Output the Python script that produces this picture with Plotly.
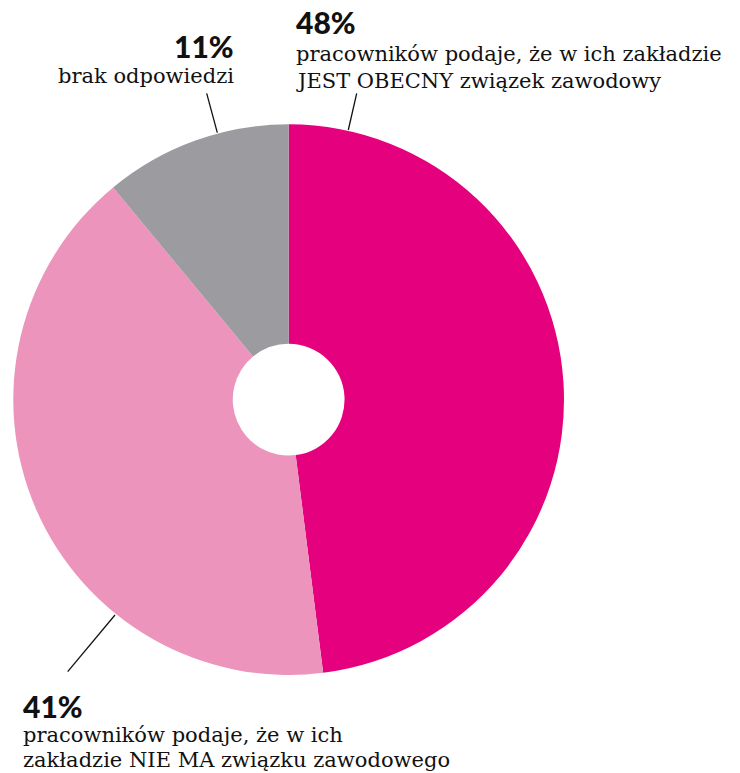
import plotly.graph_objects as go

W, H = 740, 773

# Survey answers: is there a trade union at the workplace?
labels = ["JEST OBECNY", "NIE MA", "brak odpowiedzi"]
values = [48, 41, 11]
colors = ["#E5007E", "#EC94BC", "#9C9BA0"]

pct_texts = ["48%", "41%", "11%"]
desc_lines = [
    ["pracowników podaje, że w ich zakładzie", "JEST OBECNY związek zawodowy"],
    ["pracowników podaje, że w ich", "zakładzie NIE MA związku zawodowego"],
    ["brak odpowiedzi"],
]


def px(x):
    return x / W


def py(y):
    return 1 - y / H


fig = go.Figure(
    go.Pie(
        labels=labels,
        values=values,
        marker=dict(colors=colors, line=dict(width=0)),
        hole=0.203,
        sort=False,
        direction="clockwise",
        rotation=0,
        textinfo="none",
        hoverinfo="label+percent",
        domain=dict(x=[px(13.3), px(564)], y=[py(675), py(124.3)]),
        showlegend=False,
    )
)

pct_font = dict(family="Lato", size=30, color="#111111", weight=900)
body_font = dict(family="DejaVu Serif", size=21, color="#111111")

# label blocks: (anchor x, align, pct baseline, line baselines)
blocks = [
    (295, "left", 33, [61, 88]),
    (22, "left", 717, [742, 767]),
    (235, "right", 57, [83]),
]

annotations = []
for (x, align, pb, lbs), pct, lines in zip(blocks, pct_texts, desc_lines):
    annotations.append(dict(
        x=px(x), y=py(pb + 8), xref="paper", yref="paper",
        xanchor=align, yanchor="bottom", text=pct,
        showarrow=False, font=pct_font, borderpad=0,
    ))
    for t, b in zip(lines, lbs):
        annotations.append(dict(
            x=px(x), y=py(b + 6), xref="paper", yref="paper",
            xanchor=align, yanchor="bottom", text=t,
            showarrow=False, font=body_font, borderpad=0,
        ))

# leader lines from the rim to the labels
leaders = [
    ((348.3, 130), (356.7, 93.3)),
    ((115, 615), (67.7, 671.7)),
    ((217.3, 132.7), (206.7, 93.3)),
]
shapes = []
for (x0, y0), (x1, y1) in leaders:
    shapes.append(dict(
        type="line", xref="paper", yref="paper",
        x0=px(x0), y0=py(y0), x1=px(x1), y1=py(y1),
        line=dict(color="#111111", width=1.3),
    ))

fig.update_layout(
    width=W, height=H,
    margin=dict(l=0, r=0, t=0, b=0),
    paper_bgcolor="white",
    plot_bgcolor="white",
    annotations=annotations,
    shapes=shapes,
)

fig.write_html("out.html")
